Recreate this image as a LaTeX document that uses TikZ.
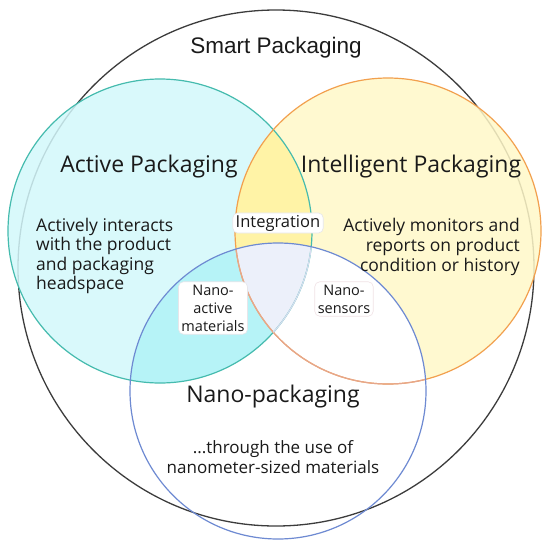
\documentclass[tikz,border=0pt]{standalone}
\usepackage{fontspec}
\setmainfont{Open Sans}
\newfontfamily\arialfont{Liberation Sans}
\definecolor{outerc}{HTML}{3C3C3C}
\definecolor{tealc}{HTML}{45BBAE}
\definecolor{orangec}{HTML}{F2A04E}
\definecolor{bluec}{HTML}{6E8AD2}
\definecolor{cyanlight}{HTML}{D3F8FB}
\definecolor{cyanstrong}{HTML}{B6F3F7}
\definecolor{yellowlight}{HTML}{FFF8C8}
\definecolor{yellowstrong}{HTML}{FFF3A6}
\definecolor{lavender}{HTML}{ECF0FA}
\definecolor{salmon}{HTML}{E6A68C}
\definecolor{faintc}{HTML}{D6DDF0}
\definecolor{textc}{HTML}{1A1A1A}
\definecolor{boxborder}{HTML}{E6E6EA}
\definecolor{pinkborder}{HTML}{F0E2E6}
\tikzset{
  title/.style={text=textc, font=\fontsize{23}{26}\selectfont, inner sep=0pt},
  desc/.style={text=textc, font=\fontsize{17.5}{19.6}\selectfont, inner sep=0pt},
  tagbox/.style={fill=white, draw=boxborder, line width=0.6pt, rounded corners=5pt, text=textc, align=center, inner xsep=3pt, inner ysep=3pt},
}
\begin{document}
\begin{tikzpicture}[x=1pt,y=-1pt]
\useasboundingbox (0,0) rectangle (550,550);
\fill[white] (0,0) rectangle (550,550);
\coordinate (O) at (276,268);
\coordinate (A) at (160,231);
\coordinate (I) at (388,231);
\coordinate (N) at (278,391);
% outer circle
\draw[outerc, line width=1.3pt] (O) circle (258);
% fills
\fill[cyanlight, opacity=0.85] (A) circle (152);
\fill[yellowlight, opacity=0.85] (I) circle (153);
\begin{scope}
  \clip (A) circle (152);
  \fill[yellowstrong] (I) circle (153);
\end{scope}
\begin{scope}
  \clip (N) circle (148);
  \fill[white] (I) circle (153);
  \fill[cyanstrong] (A) circle (152);
  \begin{scope}
    \clip (A) circle (152);
    \fill[lavender] (I) circle (153);
  \end{scope}
\end{scope}
% strokes
\draw[tealc, line width=1.2pt] (A) circle (152);
\draw[orangec, line width=1.2pt] (I) circle (153);
\begin{scope}
  \clip (N) circle (148);
  \draw[salmon, line width=1.2pt] (I) circle (153);
  \begin{scope}
    \clip (I) circle (153);
    \draw[faintc, line width=1.2pt] (A) circle (152);
  \end{scope}
\end{scope}
\draw[bluec, line width=1.2pt] (N) circle (148);
% titles
\node[title, font=\arialfont\fontsize{22.5}{26}\selectfont] (smart) at (276,48) {Smart Packaging};
\node[title] (active) at (149,167) {Active Packaging};
\node[title] (intel) at (411,167) {Intelligent Packaging};
\node[title] (nano) at (273,397) {Nano-packaging};
% descriptions
\node[desc, anchor=west, align=left] (activedesc) at (36,256) {Actively interacts\\with the product\\and packaging\\headspace};
\node[desc, anchor=east, align=right] (inteldesc) at (520,247) {Actively monitors and\\reports on product\\condition or history};
\node[desc, align=center, font=\fontsize{17}{20}\selectfont] (nanodesc) at (273,457) {...through the use of\\nanometer-sized materials};
% tag boxes
\node[tagbox, font=\fontsize{16.5}{18}\selectfont, inner ysep=2pt] (integ) at (278,223) {Integration};
\node[tagbox, font=\fontsize{14.5}{18}\selectfont] (nanoact) at (213,308) {Nano-\\active\\materials};
\node[tagbox, draw=pinkborder, font=\fontsize{14.5}{18}\selectfont] (nanosens) at (344,299) {Nano-\\sensors};
\end{tikzpicture}
\end{document}
